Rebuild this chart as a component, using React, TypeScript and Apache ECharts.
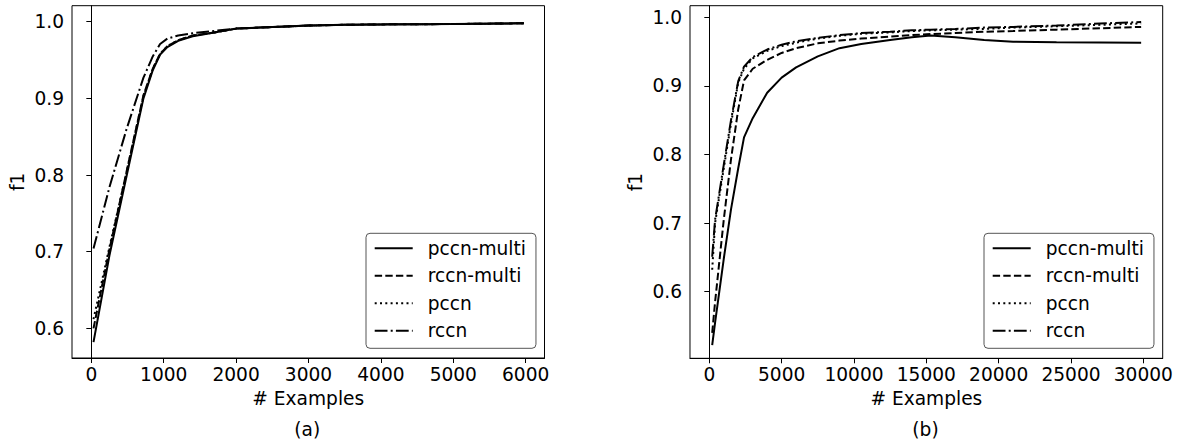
import React, { useEffect, useRef } from "react";
import * as echarts from "echarts";

const seriesNames = ["pccn-multi", "rccn-multi", "pccn", "rccn"];

// Panel (a)
const examplesA = [30, 250, 490, 720, 850, 950, 1050, 1200, 1400, 1700, 2000, 2500, 3000, 3500, 4000, 5000, 5975];
const pccnMultiA = [0.582, 0.695, 0.8, 0.9, 0.937, 0.957, 0.967, 0.975, 0.981, 0.986, 0.991, 0.993, 0.995, 0.996, 0.9965, 0.997, 0.998];
const rccnMultiA = [0.6, 0.703, 0.806, 0.904, 0.939, 0.958, 0.968, 0.976, 0.982, 0.986, 0.991, 0.993, 0.995, 0.996, 0.9965, 0.997, 0.998];
const pccnA = [0.612, 0.706, 0.805, 0.903, 0.939, 0.958, 0.968, 0.976, 0.982, 0.986, 0.991, 0.993, 0.995, 0.996, 0.9965, 0.997, 0.998];
const rccnA = [0.704, 0.784, 0.861, 0.927, 0.955, 0.971, 0.978, 0.982, 0.985, 0.988, 0.991, 0.993, 0.995, 0.996, 0.9965, 0.997, 0.998];

// Panel (b)
const examplesB = [200, 400, 1000, 1500, 2000, 2400, 3000, 4000, 5000, 6000, 7500, 9000, 10500, 12500, 14000, 15300, 17000, 19000, 21000, 24000, 27000, 29850];
const pccnMultiB = [0.522, 0.555, 0.648, 0.72, 0.78, 0.825, 0.853, 0.89, 0.912, 0.927, 0.943, 0.955, 0.961, 0.967, 0.971, 0.9735, 0.971, 0.967, 0.9645, 0.9635, 0.9633, 0.963];
const rccnMultiB = [0.54, 0.585, 0.705, 0.793, 0.866, 0.908, 0.925, 0.938, 0.948, 0.955, 0.962, 0.966, 0.969, 0.972, 0.974, 0.9755, 0.977, 0.979, 0.98, 0.982, 0.984, 0.986];
const pccnB = [0.632, 0.7, 0.78, 0.845, 0.905, 0.925, 0.94, 0.951, 0.958, 0.963, 0.969, 0.973, 0.976, 0.978, 0.98, 0.981, 0.982, 0.983, 0.985, 0.987, 0.989, 0.991];
const rccnB = [0.651, 0.705, 0.785, 0.85, 0.907, 0.928, 0.942, 0.953, 0.96, 0.965, 0.97, 0.974, 0.977, 0.979, 0.981, 0.982, 0.983, 0.985, 0.986, 0.988, 0.991, 0.993];

// Tick labels
const xTicksA = [0, 1000, 2000, 3000, 4000, 5000, 6000];
const xTicksB = [0, 5000, 10000, 15000, 20000, 25000, 30000];
const yTicks = [0.6, 0.7, 0.8, 0.9, 1.0];

const FONT = "DejaVu Sans";
const FS = 18.6;
const dashStyles: any[] = ["solid", [7.4, 3.2], [2, 3.3], [12.8, 3.2, 2, 3.2]];

function pairs(xs: number[], ys: number[]) {
  return xs.map((x, i) => [x, ys[i]]);
}

export default function App() {
  const ref = useRef<HTMLDivElement>(null);
  useEffect(() => {
    document.body.style.margin = "0";
    const chart = echarts.init(ref.current!, null, { renderer: "svg" });

    const axisLine = { show: true, lineStyle: { color: "#000", width: 1 } };
    const axisTick = (vals: number[]) => ({ show: true, length: 5, lineStyle: { color: "#000", width: 1 }, customValues: vals });
    const labelStyle = { fontFamily: FONT, fontSize: FS, color: "#000" };

    const xAxis = (idx: number, min: number, max: number, ticks: number[]) => ({
      type: "value",
      gridIndex: idx,
      min,
      max,
      name: "# Examples",
      nameLocation: "middle",
      nameGap: 30,
      nameTextStyle: { ...labelStyle },
      axisLine,
      axisTick: axisTick(ticks),
      splitLine: { show: false },
      axisLabel: { ...labelStyle, margin: 7, customValues: ticks, formatter: (v: number) => String(v) },
    });
    const yAxis = (idx: number, min: number, max: number) => ({
      type: "value",
      gridIndex: idx,
      min,
      max,
      name: "f1",
      nameLocation: "middle",
      nameRotate: 90,
      nameGap: 45,
      nameTextStyle: { ...labelStyle },
      axisLine,
      axisTick: axisTick(yTicks),
      splitLine: { show: false },
      axisLabel: { ...labelStyle, margin: 8, customValues: yTicks, formatter: (v: number) => v.toFixed(1) },
    });

    const dataA = [pccnMultiA, rccnMultiA, pccnA, rccnA];
    const dataB = [pccnMultiB, rccnMultiB, pccnB, rccnB];
    const series: any[] = [];
    const addSeries = (axis: number, xs: number[], data: number[][]) => {
      seriesNames.forEach((name, i) => {
        series.push({
          name,
          type: "line",
          xAxisIndex: axis,
          yAxisIndex: axis,
          data: pairs(xs, data[i]),
          symbol: "none",
          lineStyle: { color: "#000", width: 2, type: dashStyles[i] },
          itemStyle: { color: "#000" },
        });
      });
    };
    addSeries(0, examplesA, dataA);
    addSeries(1, examplesB, dataB);

    const legend = (left: number) => ({
      data: seriesNames,
      orient: "vertical",
      left,
      top: 233.3,
      padding: [5.5, 10, 8, 7.7],
      itemWidth: 38,
      itemHeight: 14,
      itemGap: 8.5,
      selectedMode: false,
      backgroundColor: "#fff",
      borderColor: "#555",
      borderWidth: 1,
      borderRadius: 4,
      itemStyle: { color: "rgba(0,0,0,0)", borderWidth: 0, opacity: 0 },
      textStyle: { fontFamily: FONT, fontSize: FS, color: "#000", lineHeight: 19, padding: [0, 0, 0, 10] },
    });

    chart.setOption({
      animation: false,
      textStyle: { fontFamily: FONT },
      grid: [
        { left: 72, top: 5.7, width: 472.5, height: 352.3, show: true, borderColor: "#000", borderWidth: 1, containLabel: false },
        { left: 690, top: 5.7, width: 472.7, height: 352.6, show: true, borderColor: "#000", borderWidth: 1, containLabel: false },
      ],
      xAxis: [xAxis(0, -267, 6260, xTicksA), xAxis(1, -1334, 31340, xTicksB)],
      yAxis: [yAxis(0, 0.5613, 1.0209), yAxis(1, 0.5029, 1.0169)],
      legend: [legend(366), legend(984)],
      series,
      graphic: [
        { type: "text", left: 308.25 - 14, top: 420, style: { text: "(a)", font: `${FS}px "${FONT}"`, fill: "#000" } },
        { type: "text", left: 926.35 - 14, top: 420, style: { text: "(b)", font: `${FS}px "${FONT}"`, fill: "#000" } },
      ],
    });
    return () => chart.dispose();
  }, []);
  return <div ref={ref} style={{ width: 1185, height: 448 }} />;
}
